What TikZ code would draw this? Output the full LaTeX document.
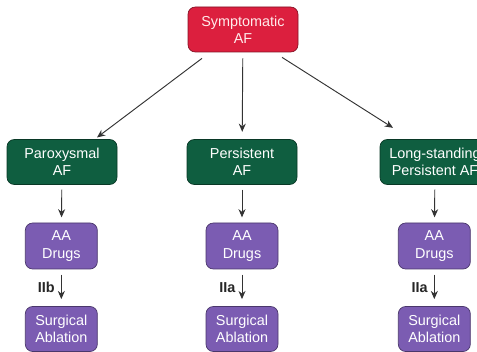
\documentclass[tikz,border=0pt]{standalone}
\usepackage{fontspec}
\setmainfont{Liberation Sans}
\usetikzlibrary{arrows.meta}

\definecolor{afred}{HTML}{DC1F3E}
\definecolor{afgreen}{HTML}{0F5E40}
\definecolor{afpurple}{HTML}{7B5CB2}

\tikzset{
    box/.style={rounded corners=.22cm, align=center, text=white, inner sep=1pt,
        font=\fontsize{12.3}{14.8}\selectfont, line width=.6pt},
    topbox/.style={box, fill=afred, draw=afred!60!black, minimum width=3.3cm, minimum height=1.35cm, text=red!8},
    typebox/.style={box, fill=afgreen, draw=afgreen!60!black, minimum width=3.3cm, minimum height=1.35cm},
    stepbox/.style={box, fill=afpurple, draw=afpurple!60!black, minimum width=2.16cm, minimum height=1.38cm},
    arr/.style={-{Stealth[length=7pt,width=6pt]}, line width=.8pt, draw=black!80},
    cls/.style={font=\fontsize{12.3}{14.8}\selectfont\bfseries, text=black!85},
}

\begin{document}
\begin{tikzpicture}
    \useasboundingbox (0,0) rectangle (14.31,10.53);
    \clip (0,0) rectangle (14.31,10.53);
    % top
    \node[topbox] (symp) at (7.29,9.645) {Symptomatic\\AF};
    % types of AF
    \node[typebox] (parox) at (1.86,5.67) {Paroxysmal\\AF};
    \node[typebox] (pers) at (7.26,5.67) {Persistent\\AF};
    \node[typebox] (long) at (13.05,5.67) {Long-standing\\Persistent AF};
    % drugs
    \node[stepbox] (aa1) at (1.84,3.15) {AA\\Drugs};
    \node[stepbox] (aa2) at (7.26,3.15) {AA\\Drugs};
    \node[stepbox] (aa3) at (13.03,3.15) {AA\\Drugs};
    % ablation
    \node[stepbox, minimum height=1.35cm] (sa1) at (1.84,.66) {Surgical\\Ablation};
    \node[stepbox, minimum height=1.35cm] (sa2) at (7.26,.66) {Surgical\\Ablation};
    \node[stepbox, minimum height=1.35cm] (sa3) at (13.03,.66) {Surgical\\Ablation};

    \draw[arr] ([xshift=-1.23cm,yshift=-.18cm]symp.south) -- ([xshift=1.05cm,yshift=.05cm]parox.north);
    \draw[arr, shorten <=.18cm, shorten >=.22cm] (symp) -- (pers);
    \draw[arr] ([xshift=1.17cm,yshift=-.15cm]symp.south) -- ([xshift=-1.26cm,yshift=.34cm]long.north);

    \foreach \a/\b in {parox/aa1,pers/aa2,long/aa3}
        \draw[arr, shorten <=4pt, shorten >=4.5pt] (\a) -- (\b);
    \foreach \a/\b/\c in {aa1/sa1/IIb,aa2/sa2/IIa,aa3/sa3/IIa}
        \draw[arr, shorten <=4.5pt, shorten >=6pt] (\a) -- node[cls, left=2pt] {\c} (\b);
\end{tikzpicture}
\end{document}
